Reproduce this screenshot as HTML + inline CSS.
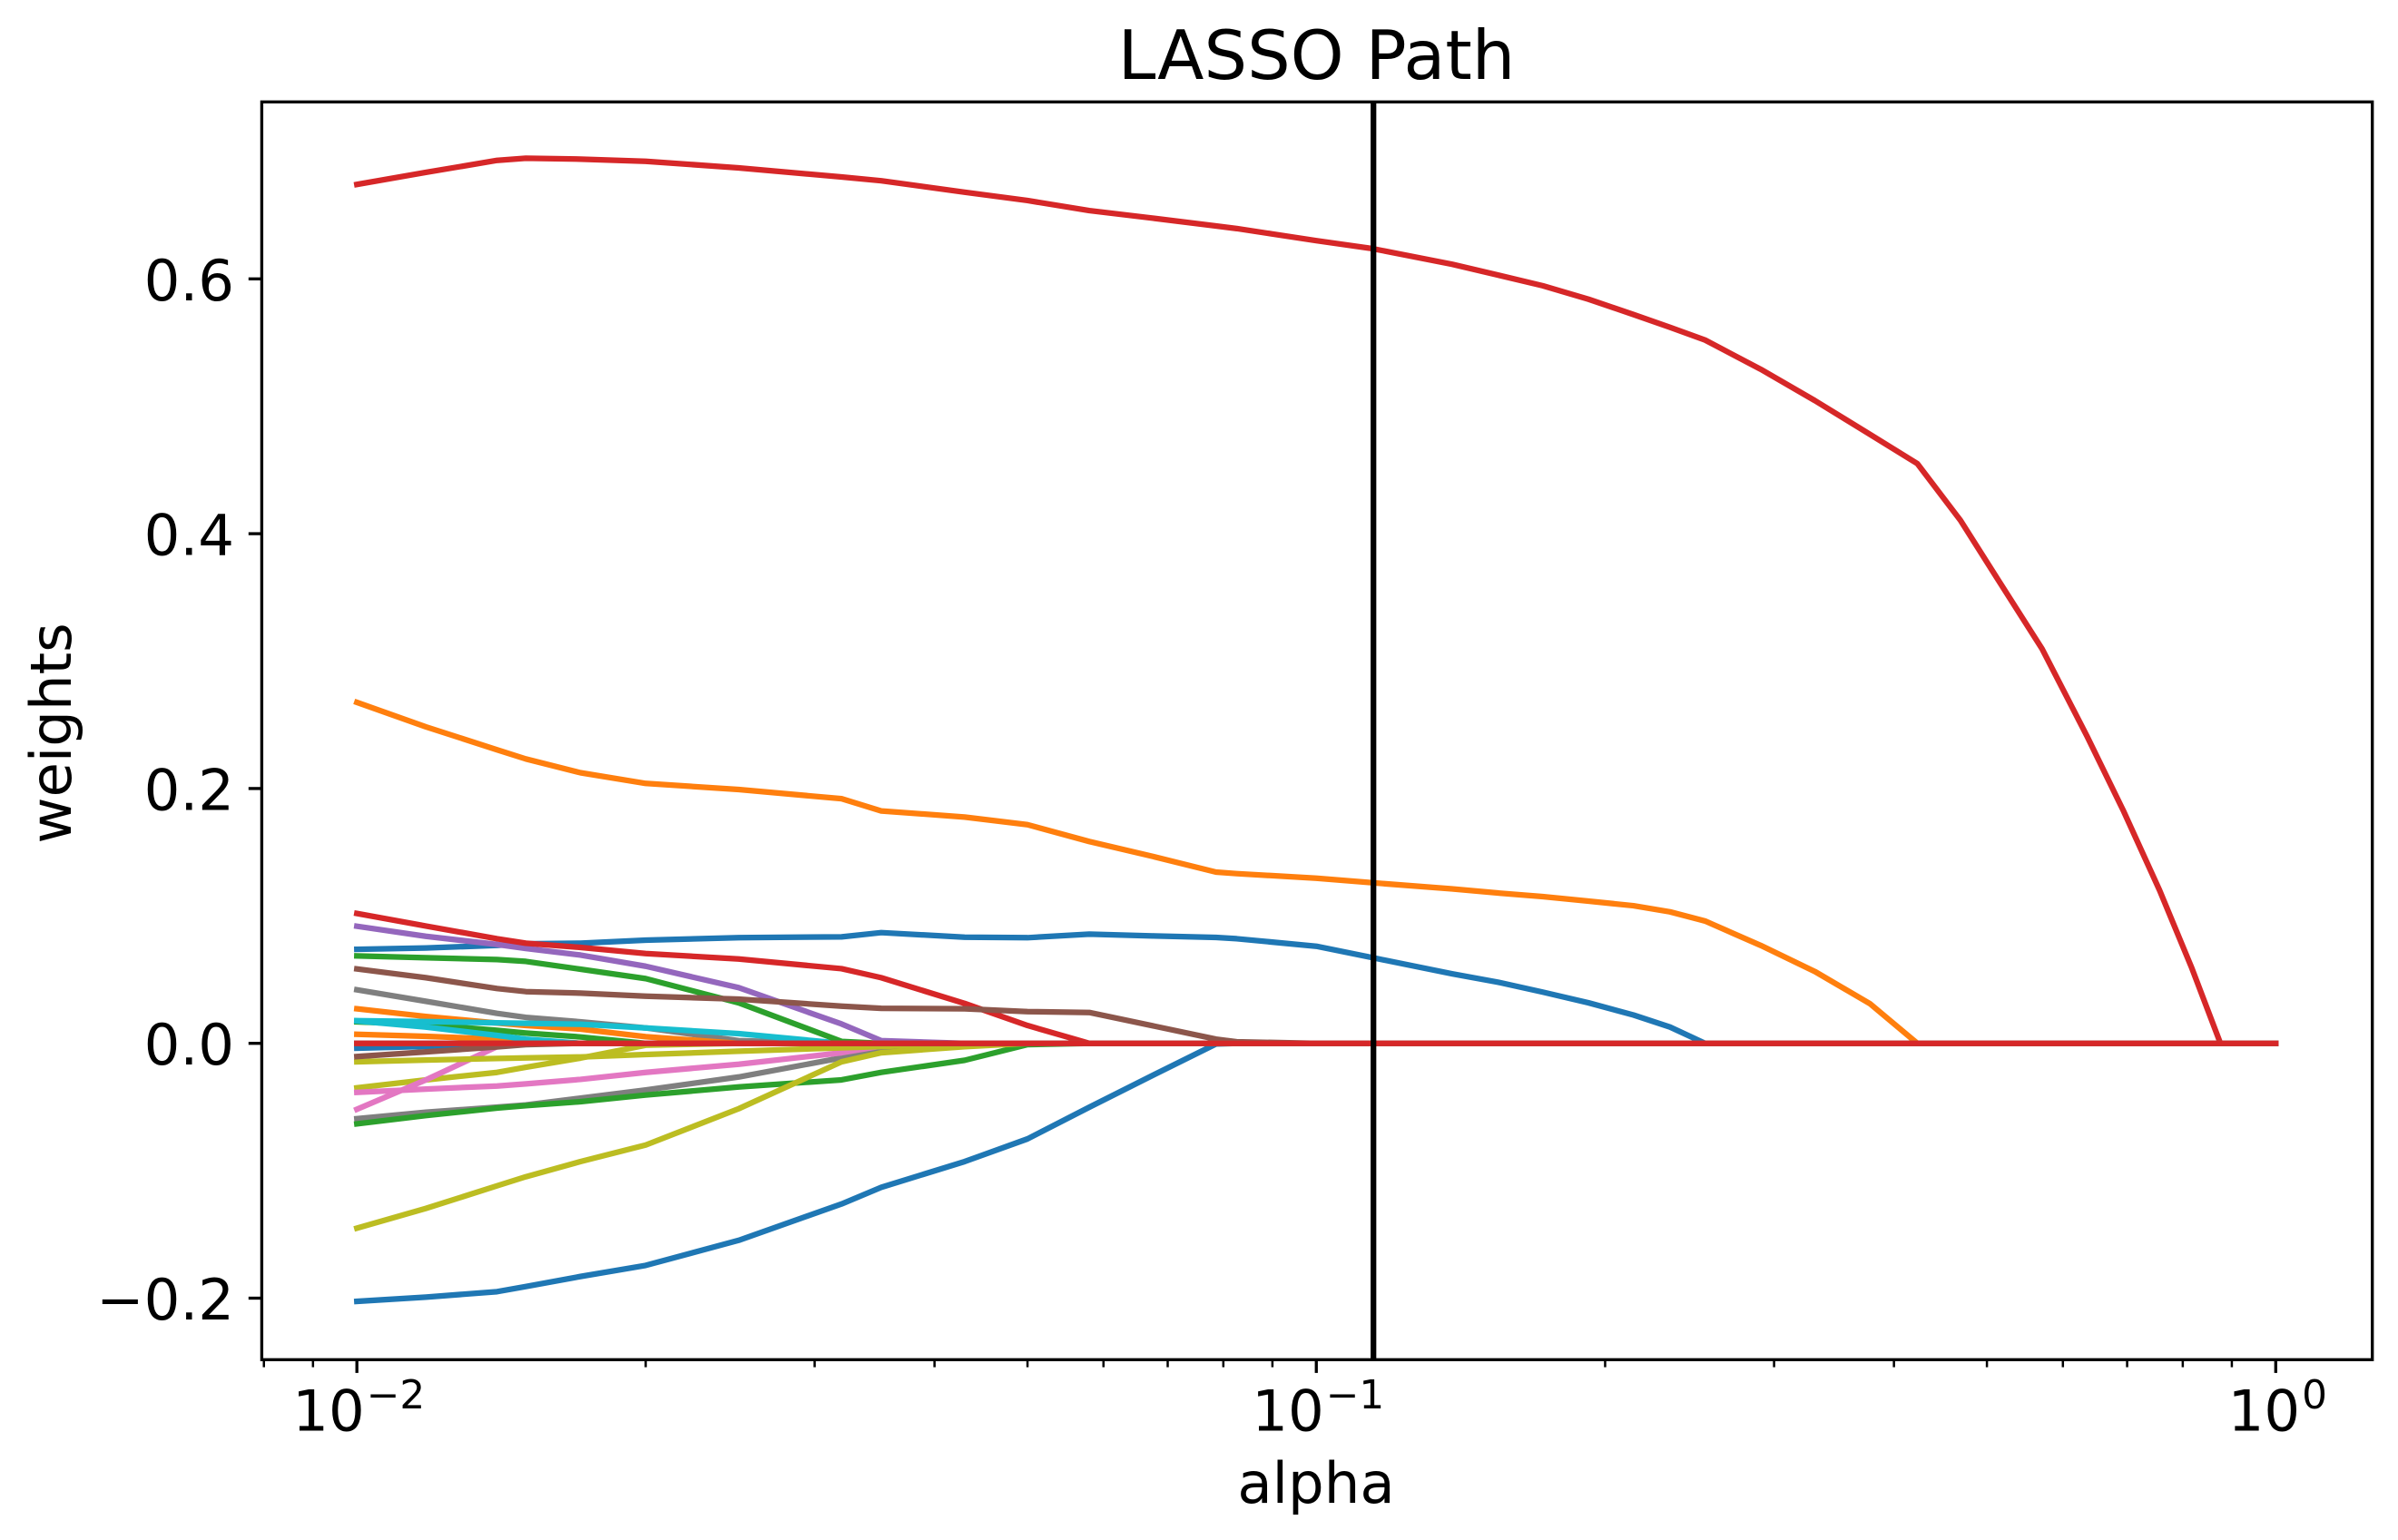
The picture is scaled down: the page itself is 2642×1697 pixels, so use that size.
<!DOCTYPE html>
<html lang="en">
<head>
<meta charset="utf-8">
<title>LASSO Path</title>
<style>
html,body{margin:0;padding:0;background:#fff;}
#chart{display:block;position:absolute;left:0;top:0;}
text{font-family:"DejaVu Sans","Liberation Sans",sans-serif;fill:#000;}
</style>
</head>
<body>
<svg id="chart" xmlns="http://www.w3.org/2000/svg" width="2642" height="1697" viewBox="0 0 2642 1697">
  <rect x="0" y="0" width="2642" height="1697" fill="#ffffff"/>
  <g id="series-layer"></g>
  <g id="marker-layer"></g>
  <g id="axes-layer"></g>
  <text x="1450.5" y="87" font-size="75" text-anchor="middle">LASSO Path</text>
  <text x="1450" y="1656" font-size="62.5" text-anchor="middle">alpha</text>
  <text x="78" y="808" font-size="62.5" text-anchor="middle" transform="rotate(-90 78 808)">weights</text>
</svg>
<script>
// ---- data ----
const alphas = [0.01,0.0118,0.014,0.015,0.0171,0.02,0.025,0.032,0.0352,0.043,0.05,0.058,0.0678,0.0786,0.0826,0.1,0.1145,0.1385,0.1546,0.1722,0.1922,0.2141,0.2337,0.2542,0.2906,0.3308,0.3775,0.4231,0.4693,0.5114,0.5708,0.6358,0.6943,0.7568,0.8176,0.8757,1];
// Each series lists weights along alphas; once a path reaches zero the remaining values are zero.
const weightsGrayLow = [-.0591,-.0541,-.0501,-.0484,-.043,-.0366,-.0264,-.0114,-.0057,-.0019,0];
const weightsGreenLow = [-.0632,-.0567,-.0508,-.0489,-.0458,-.0406,-.0342,-.0287,-.0228,-.0133,-.001,0];
const weightsOliveMid = [-.0349,-.0287,-.0228,-.0188,-.0116,-.0015,0];
const weightsPinkSteep = [-.0518,-.0287,-.0026,0];
const weightsPinkLong = [-.0385,-.0359,-.0335,-.0318,-.0283,-.0228,-.0164,-.0074,-.0021,0];
const weightsOliveFlat = [-.0145,-.0131,-.0119,-.0114,-.0107,-.0088,-.0062,-.0035,-.0025,0];
const weightsOliveBig = [-.1451,-.1296,-.1118,-.1047,-.0928,-.0798,-.0513,-.0145,-.0074,-.0026,0];
const weightsBlueBig = [-.2025,-.1992,-.1949,-.1909,-.183,-.1743,-.1546,-.1261,-.113,-.0928,-.075,-.0501,-.0245,-.0005,0];
const weightsBlueSmall = [-.0038,-.0024,-.0007,0];
const weightsBrownSmall = [-.0104,-.0067,-.0028,-.001,0];
const weightsOrangeSmall = [.0071,.0055,.0033,.0021,0];
const weightsGreenSmall = [.0169,.0147,.0102,.0081,.005,0];
const weightsCyanShort = [.0176,.0128,.0062,.0033,0];
const weightsGrayHigh = [.042,.033,.0235,.0204,.0169,.0121,.0021,0];
const weightsOrangeMid = [.0271,.0211,.0159,.014,.0112,.0052,0];
const weightsCyanLong = [.0178,.0171,.0161,.0157,.015,.0121,.0076,0];
const weightsBlueMid = [.0738,.0748,.0769,.0781,.0786,.081,.0829,.0836,.0869,.0833,.0829,.0857,.0843,.0831,.0821,.0762,.0672,.0546,.048,.0402,.0318,.0222,.0128,0];
const weightsGreenHigh = [.0686,.0672,.0658,.0643,.0582,.0508,.0318,.0015,0];
const weightsPurple = [.0919,.084,.0776,.0745,.0693,.0605,.0437,.0152,.0021,0];
const weightsRedMid = [.1019,.0921,.0821,.0786,.0753,.0705,.0662,.0586,.0515,.0313,.014,0];
const weightsBrownMid = [.0584,.0515,.043,.0406,.0394,.037,.0347,.0292,.0275,.0271,.0249,.0242,.0135,.0033,.0012,0];
const weightsOrangeBig = [.2676,.2484,.2304,.2232,.2124,.204,.1992,.192,.1824,.1776,.1716,.1584,.1464,.1344,.1332,.1296,.126,.1212,.118,.1152,.1116,.108,.1032,.096,.0768,.0564,.0312,0];
const weightsRedBig = [.6741,.6836,.693,.6947,.694,.6923,.6871,.68,.677,.668,.6615,.6536,.6475,.6415,.6395,.63,.6237,.6115,.603,.5946,.584,.572,.562,.552,.529,.5045,.478,.455,.4104,.366,.3096,.241,.182,.12,.059,0,0];
const weightsZeroGreen = [0];
const weightsZeroGray = [0];
const weightsZeroRed = [0];

const seriesValues = [weightsGrayLow,weightsGreenLow,weightsOliveMid,weightsPinkSteep,weightsPinkLong,weightsOliveFlat,weightsOliveBig,weightsBlueBig,weightsBlueSmall,weightsBrownSmall,weightsOrangeSmall,weightsGreenSmall,weightsCyanShort,weightsGrayHigh,weightsOrangeMid,weightsCyanLong,weightsBlueMid,weightsGreenHigh,weightsPurple,weightsRedMid,weightsBrownMid,weightsOrangeBig,weightsRedBig,weightsZeroGreen,weightsZeroGray,weightsZeroRed];
const seriesNames = ['gray-low','green-low','olive-mid','pink-steep','pink-long','olive-flat','olive-big','blue-big','blue-small','brown-small','orange-small','green-small','cyan-short','gray-high','orange-mid','cyan-long','blue-mid','green-high','purple','red-mid','brown-mid','orange-big','red-big','zero-green','zero-gray','zero-red'];
const seriesColors = ['#7f7f7f','#2ca02c','#bcbd22','#e377c2','#e377c2','#bcbd22','#bcbd22','#1f77b4','#1f77b4','#8c564b','#ff7f0e','#2ca02c','#17becf','#7f7f7f','#ff7f0e','#17becf','#1f77b4','#2ca02c','#9467bd','#d62728','#8c564b','#ff7f0e','#d62728','#2ca02c','#7f7f7f','#d62728'];
const selectedAlpha = 0.1147;
const yTickValues = [-0.2,0,0.2,0.4,0.6];
const yTickLabels = ['\u22120.2','0.0','0.2','0.4','0.6'];
const xMajorTicks = [0.01,0.1,1];
const xMajorExponents = ['\u22122','\u22121','0'];
const xMinorTicks = [0.008,0.009,0.02,0.03,0.04,0.05,0.06,0.07,0.08,0.09,0.2,0.3,0.4,0.5,0.6,0.7,0.8,0.9];

// ---- axis functions ----
const NS = 'http://www.w3.org/2000/svg';
const box = {left:288.4, right:2613.7, top:112.3, bottom:1498.3};
const xAtMin = 393.2, pxPerDecade = 1057.05;
const yAtZero = 1149.7, pxPerUnit = 1404;
function xScale(a){ return xAtMin + (Math.log10(a) + 2) * pxPerDecade; }
function yScale(w){ return yAtZero - w * pxPerUnit; }

const seriesLayer = document.getElementById('series-layer');
const markerLayer = document.getElementById('marker-layer');
const axesLayer = document.getElementById('axes-layer');

function makeLine(x1,y1,x2,y2,width){
  const l = document.createElementNS(NS,'line');
  l.setAttribute('x1',x1); l.setAttribute('y1',y1);
  l.setAttribute('x2',x2); l.setAttribute('y2',y2);
  l.setAttribute('stroke','#000'); l.setAttribute('stroke-width',width);
  return l;
}

// series
seriesValues.forEach(function(values,s){
  const pts = alphas.map(function(a,i){
    const w = i < values.length ? values[i] : 0;
    return xScale(a).toFixed(2) + ',' + yScale(w).toFixed(2);
  });
  const p = document.createElementNS(NS,'polyline');
  p.setAttribute('points',pts.join(' '));
  p.setAttribute('fill','none');
  p.setAttribute('stroke',seriesColors[s]);
  p.setAttribute('stroke-width','6.25');
  p.setAttribute('stroke-linejoin','round');
  p.setAttribute('stroke-linecap','square');
  
  
  seriesLayer.appendChild(p);
});

// selected alpha vertical line
const vline = makeLine(xScale(selectedAlpha),box.top,xScale(selectedAlpha),box.bottom,6.25);


markerLayer.appendChild(vline);

// frame
const frame = document.createElementNS(NS,'rect');
frame.setAttribute('x',box.left); frame.setAttribute('y',box.top);
frame.setAttribute('width',box.right-box.left); frame.setAttribute('height',box.bottom-box.top);
frame.setAttribute('fill','none'); frame.setAttribute('stroke','#000'); frame.setAttribute('stroke-width','3.33');


axesLayer.appendChild(frame);

// y ticks
yTickValues.forEach(function(v,i){
  const y = yScale(v);
  const t = makeLine(box.left-14.6,y,box.left,y,3.33);
  
  
  axesLayer.appendChild(t);
  const lab = document.createElementNS(NS,'text');
  lab.setAttribute('x',258);
  lab.setAttribute('y',y+23.5);
  lab.setAttribute('font-size','62.5');
  lab.setAttribute('text-anchor','end');
  lab.textContent = yTickLabels[i];
  
  
  axesLayer.appendChild(lab);
});

// x minor ticks
xMinorTicks.forEach(function(a){
  const x = xScale(a);
  const t = makeLine(x,box.bottom,x,box.bottom+8.3,2.5);
  
  
  axesLayer.appendChild(t);
});

// x major ticks with power-of-ten labels
xMajorTicks.forEach(function(a,i){
  const x = xScale(a);
  const t = makeLine(x,box.bottom,x,box.bottom+14.6,3.33);
  
  
  axesLayer.appendChild(t);
  const exp = xMajorExponents[i];
  const total = 79.5 + 2 + (exp.length > 1 ? 36.7 : 0) + 27.8;
  const startX = x - total/2 + 2;
  const base = document.createElementNS(NS,'text');
  base.setAttribute('x',startX);
  base.setAttribute('y',1576.7);
  base.setAttribute('font-size','62.5');
  base.textContent = '10';
  
  
  axesLayer.appendChild(base);
  const sup = document.createElementNS(NS,'text');
  sup.setAttribute('x',startX+81.5);
  sup.setAttribute('y',1552);
  sup.setAttribute('font-size','43.75');
  sup.textContent = exp;
  
  
  axesLayer.appendChild(sup);
});
</script>
</body>
</html>
